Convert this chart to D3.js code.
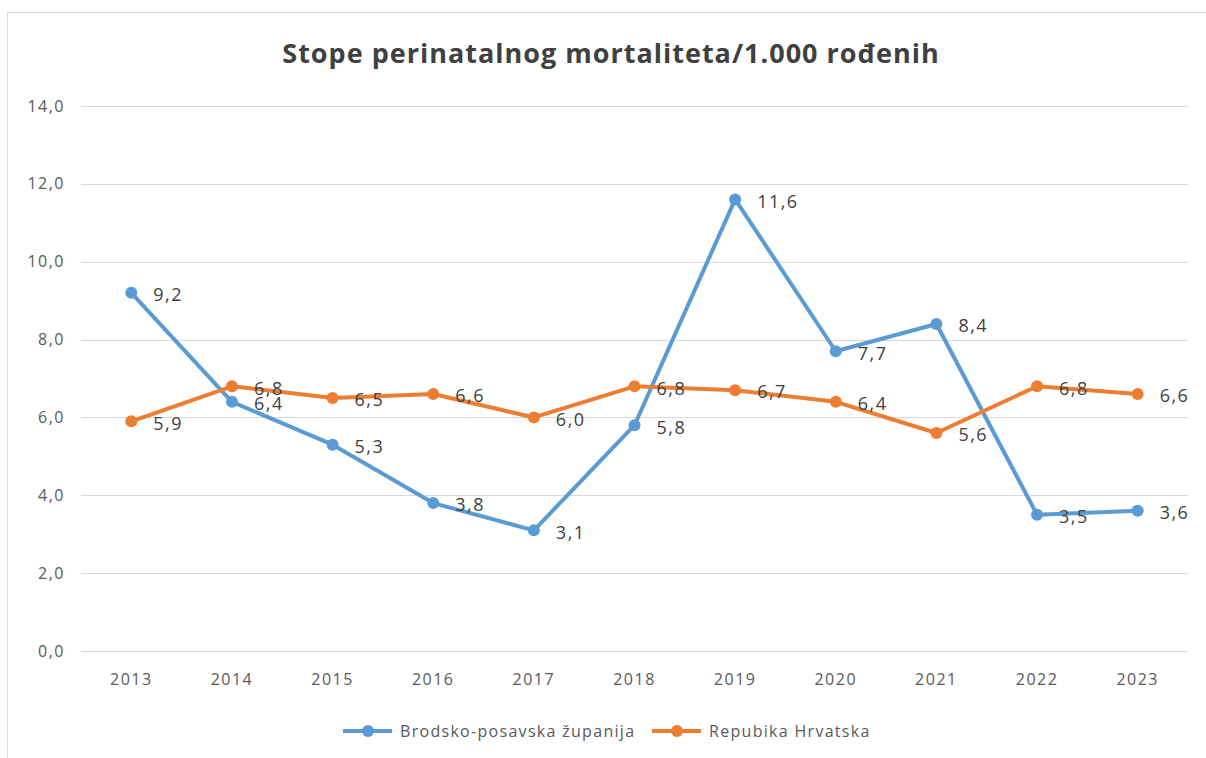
<!DOCTYPE html>
<meta charset="utf-8">
<style>
body { margin: 0; background: #fff; }
svg text { font-family: "Open Sans", sans-serif; }
.grid line { stroke: #d9d9d9; stroke-width: 1px; }
.tick-label { fill: #595959; font-size: 16px; letter-spacing: 1.5px; }
.data-label { fill: #404040; font-size: 18px; letter-spacing: 1.5px; }
.legend-text { fill: #595959; font-size: 16px; letter-spacing: 1.3px; }
</style>
<body>
<svg id="chart" width="1206" height="758"></svg>
<script src="https://d3js.org/d3.v7.min.js"></script>
<script>

var years = ["2013", "2014", "2015", "2016", "2017", "2018", "2019", "2020", "2021", "2022", "2023"];
var brodsko = [9.2, 6.4, 5.3, 3.8, 3.1, 5.8, 11.6, 7.7, 8.4, 3.5, 3.6];
var hrvatska = [5.9, 6.8, 6.5, 6.6, 6.0, 6.8, 6.7, 6.4, 5.6, 6.8, 6.6];
var yTicks = [0, 2, 4, 6, 8, 10, 12, 14];
var seriesNames = ["Brodsko-posavska županija", "Repubika Hrvatska"];
var seriesColors = ["#5b9bd5", "#ed7d31"];

var width = 1206, height = 758;
var plot = {left: 81, right: 1188, top: 106, bottom: 651};

var svg = d3.select("#chart");

// outer chart border
svg.append("rect")
    .attr("x", 7.5).attr("y", 12.5)
    .attr("width", width + 10).attr("height", height + 10)
    .attr("fill", "#fff")
    .attr("stroke", "#d9d9d9");

svg.append("text")
    .attr("x", 611).attr("y", 63)
    .attr("text-anchor", "middle")
    .style("font-size", "27px")
    .style("letter-spacing", "1px")
    .style("font-weight", "bold")
    .style("fill", "#404040")
    .text("Stope perinatalnog mortaliteta/1.000 rođenih");

var x = d3.scalePoint()
    .domain(years)
    .range([plot.left, plot.right])
    .padding(0.5);

var y = d3.scaleLinear()
    .domain([0, 14])
    .range([plot.bottom, plot.top]);

// gridlines
svg.append("g")
    .attr("class", "grid")
    .selectAll("line")
    .data(yTicks)
    .enter().append("line")
    .attr("x1", plot.left).attr("x2", plot.right)
    .attr("y1", function(d) { return Math.round(y(d)) + 0.5; })
    .attr("y2", function(d) { return Math.round(y(d)) + 0.5; });

// y labels
svg.append("g")
    .selectAll("text")
    .data(yTicks)
    .enter().append("text")
    .attr("class", "tick-label")
    .attr("x", 65)
    .attr("y", function(d) { return y(d); })
    .attr("dy", "0.35em")
    .attr("text-anchor", "end")
    .text(function(d) { return d3.format(".1f")(d).replace(".", ","); });

// x labels
svg.append("g")
    .selectAll("text")
    .data(years)
    .enter().append("text")
    .attr("class", "tick-label")
    .attr("x", function(d) { return x(d); })
    .attr("y", 685)
    .attr("text-anchor", "middle")
    .text(function(d) { return d; });

var line = d3.line()
    .x(function(d, i) { return x(years[i]); })
    .y(function(d) { return y(d); });

var allSeries = [brodsko, hrvatska];

allSeries.forEach(function(vals, s) {
  var g = svg.append("g");
  g.append("path")
      .datum(vals)
      .attr("d", line)
      .attr("fill", "none")
      .attr("stroke", seriesColors[s])
      .attr("stroke-width", 4)
      .attr("stroke-linejoin", "round");
  g.selectAll("circle")
      .data(vals)
      .enter().append("circle")
      .attr("cx", function(d, i) { return x(years[i]); })
      .attr("cy", function(d) { return y(d); })
      .attr("r", 6)
      .attr("fill", seriesColors[s]);
});

// data labels (drawn on top)
allSeries.forEach(function(vals, s) {
  svg.append("g")
    .selectAll("text")
    .data(vals)
    .enter().append("text")
    .attr("class", "data-label")
    .attr("x", function(d, i) { return x(years[i]) + 22; })
    .attr("y", function(d) { return y(d) + 2; })
    .attr("dy", "0.35em")
    .text(function(d) { return d3.format(".1f")(d).replace(".", ","); });
});

// legend
var legendX = [343, 652];
var legend = svg.append("g")
    .selectAll("g")
    .data(seriesNames)
    .enter().append("g")
    .attr("transform", function(d, i) { return "translate(" + legendX[i] + ",731)"; });

legend.append("line")
    .attr("x1", 0).attr("x2", 49)
    .attr("stroke", function(d, i) { return seriesColors[i]; })
    .attr("stroke-width", 4);
legend.append("circle")
    .attr("cx", 25).attr("r", 6)
    .attr("fill", function(d, i) { return seriesColors[i]; });
legend.append("text")
    .attr("class", "legend-text")
    .attr("x", 57)
    .attr("dy", "0.35em")
    .text(function(d) { return d; });

</script>
</body>
